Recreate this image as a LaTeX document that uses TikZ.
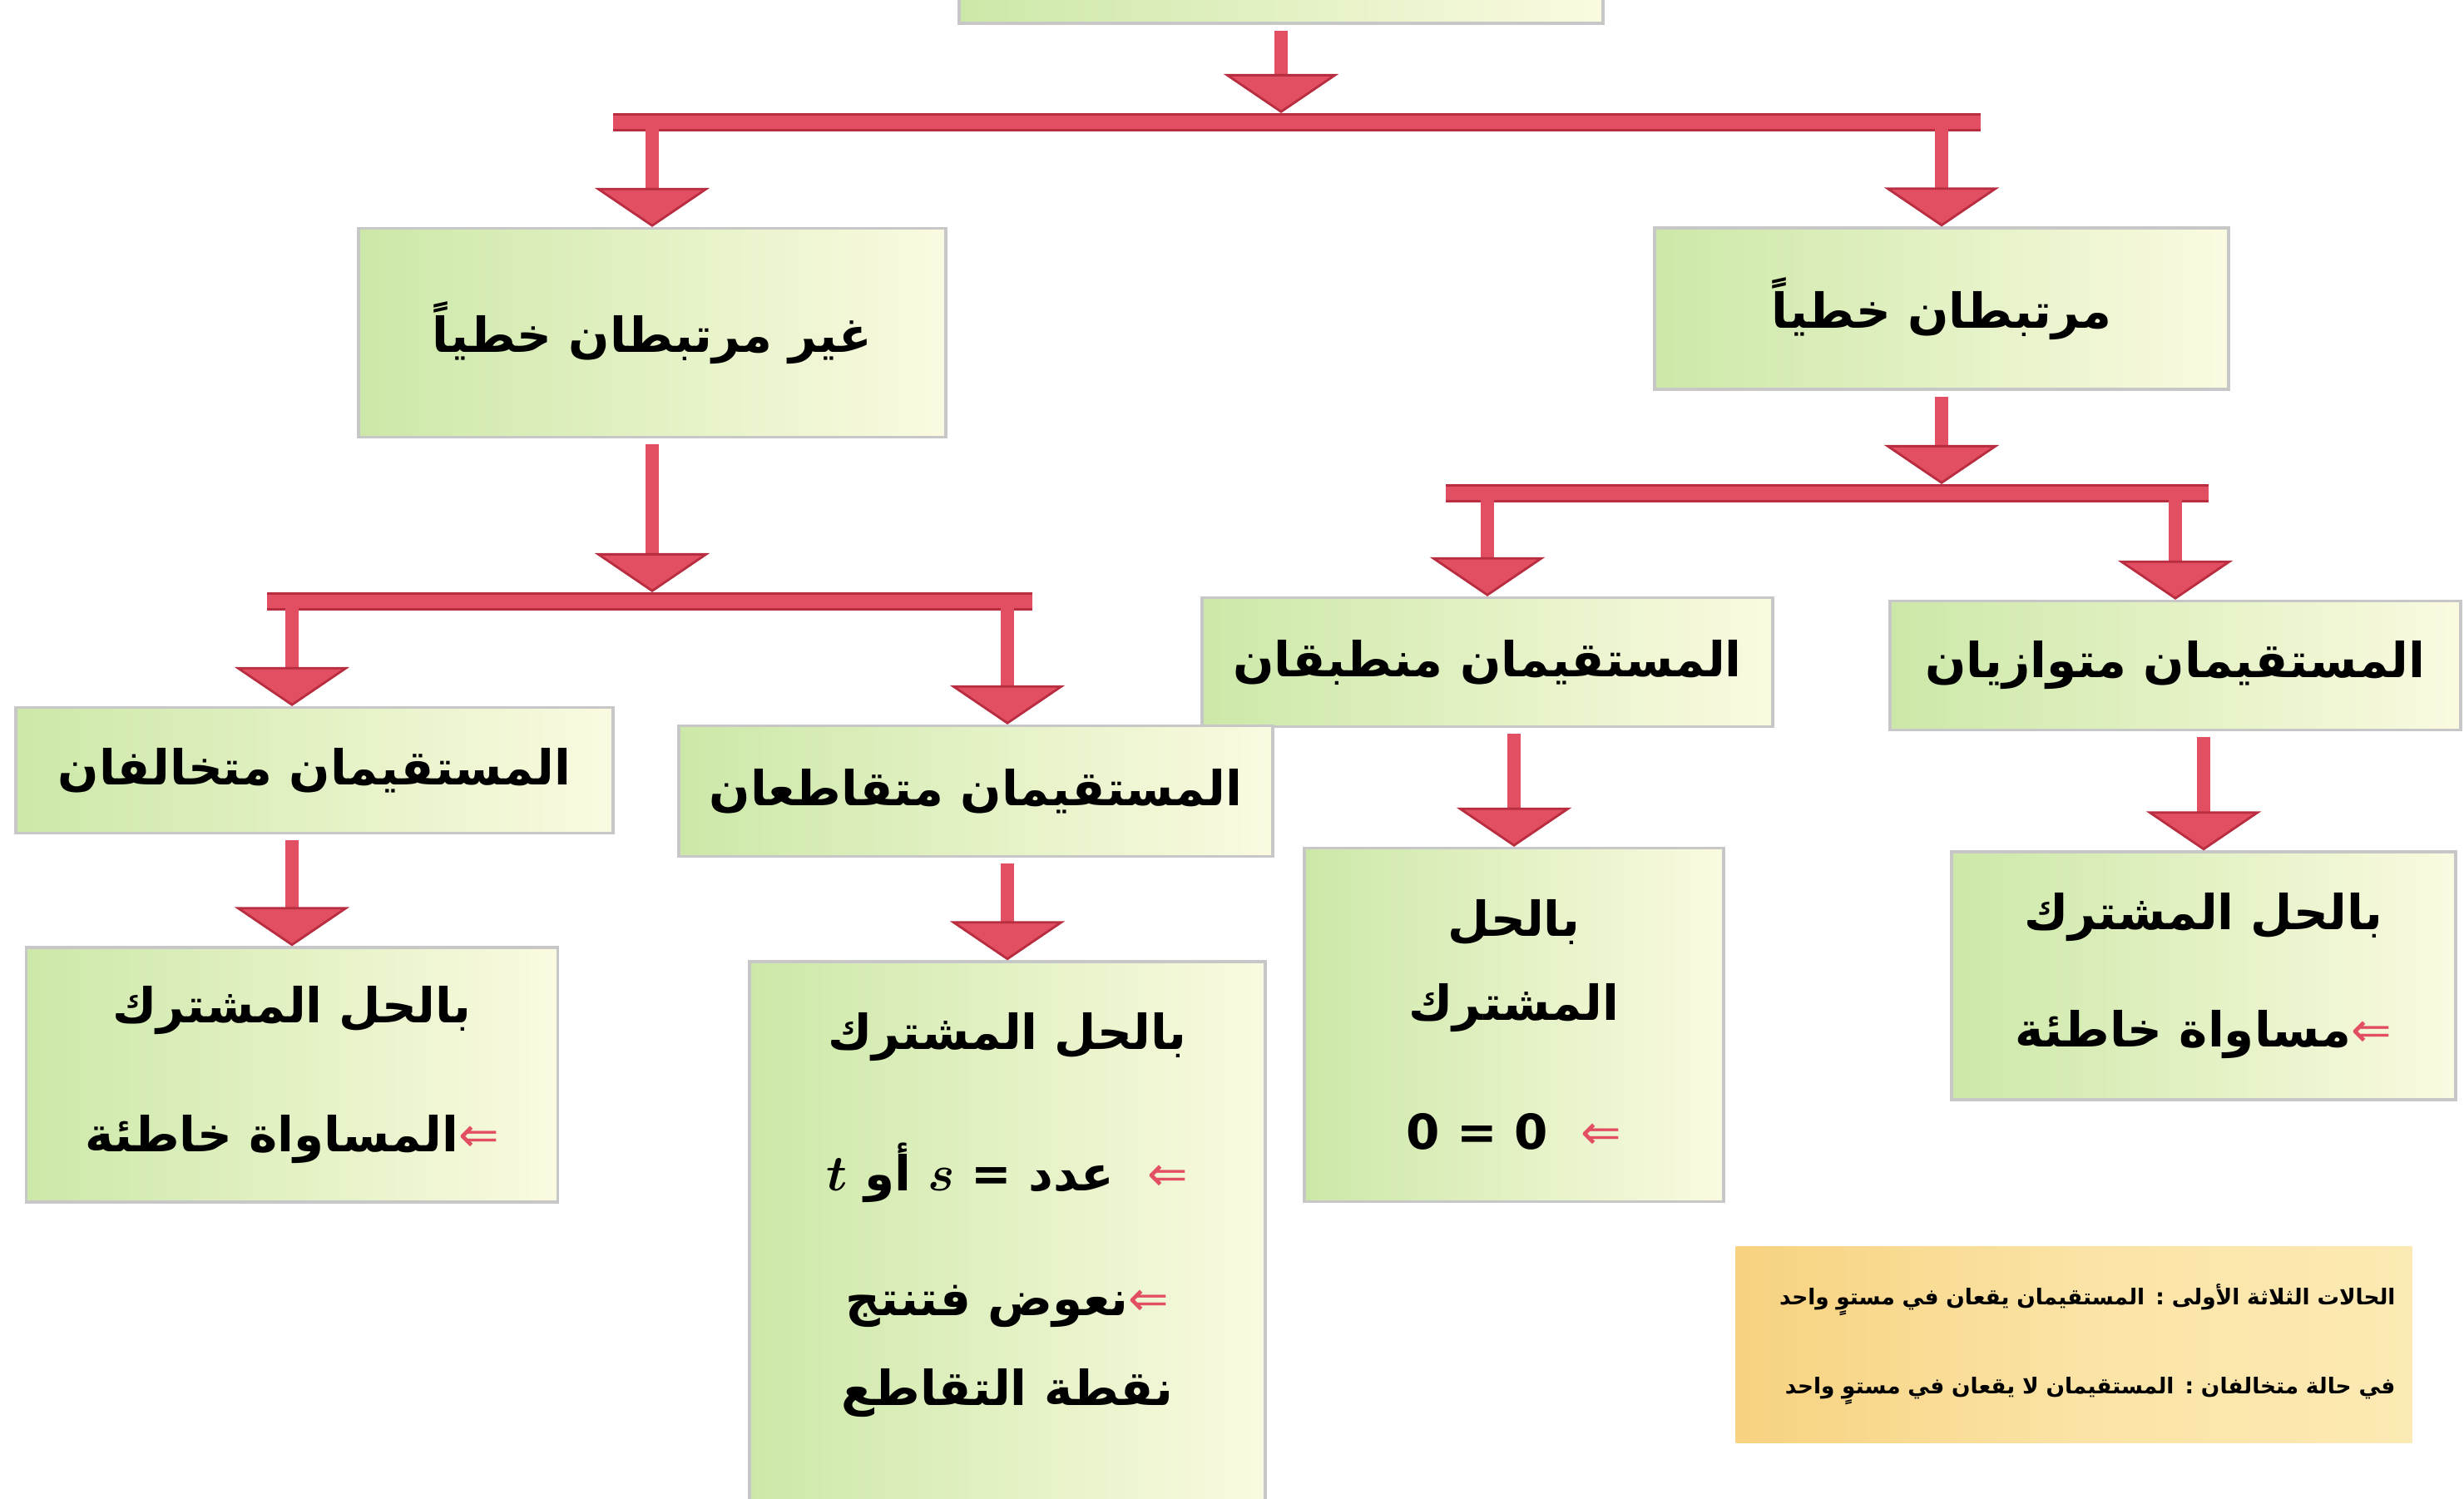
\documentclass[tikz,border=0pt]{standalone}
\usepackage{fontspec}
\usepackage{bm}
\usetikzlibrary{arrows.meta,positioning}
\TeXXeTstate=1
\newfontfamily\arabicfont[Script=Arabic]{DejaVu Sans}
\definecolor{boxgreen}{RGB}{204,232,168}
\definecolor{boxcream}{RGB}{250,250,224}
\definecolor{arrred}{RGB}{226,78,98}
\definecolor{arrdark}{RGB}{185,45,65}
\definecolor{noteorange}{RGB}{247,210,128}
\definecolor{notelight}{RGB}{252,234,180}
\newcommand{\imp}{{\color{arrred}\mdseries ⇐}}

\begin{document}
\begin{tikzpicture}[
    txt/.style={inner sep=0pt, align=center, font=\arabicfont\bfseries\fontsize{16.5}{20}\selectfont},
    box/.style={txt, draw=black!22, line width=0.9pt, left color=boxgreen, right color=boxcream},
    arr/.style={draw=arrred, line width=0.16cm, shorten <=2pt,
        -{Triangle[width=1.38cm,length=0.47cm,line width=0.8pt,fill=arrred,color=arrdark]}},
    bar/.style={draw=arrdark, line width=0.03cm, double=arrred, double distance=0.16cm}
]
\useasboundingbox (0,0) rectangle (29.62,-18.02);
\clip (0,0) rectangle (29.62,-18.02);

\node (top) [box, minimum width=7.74cm, minimum height=1.28cm] at (15.40,0.36) {};
\node (nonlin) [box, minimum width=7.06cm, minimum height=2.51cm] at (7.84,-4.00) {\beginR غير مرتبطان خطياً\endR};
\node (lin) [box, minimum width=6.90cm, minimum height=1.94cm] at (23.34,-3.71) {\beginR مرتبطان خطياً\endR};
\node (coinc) [box, minimum width=6.86cm, minimum height=1.55cm] at (17.88,-7.96) {\beginR المستقيمان منطبقان\endR};
\node (paral) [box, minimum width=6.86cm, minimum height=1.55cm] at (26.15,-8.00) {\beginR المستقيمان متوازيان\endR};
\node (skew) [box, minimum width=7.18cm, minimum height=1.51cm] at (3.78,-9.26) {\beginR المستقيمان متخالفان\endR};
\node (inter) [box, minimum width=7.14cm, minimum height=1.57cm] at (11.73,-9.51) {\beginR المستقيمان متقاطعان\endR};

\node (solveS) [box, minimum width=6.39cm, minimum height=3.06cm] at (3.51,-12.92)
    {\beginR بالحل المشترك\endR\\[0.85cm]\beginR المساواة خاطئة\endR\imp};
\node (solveI) [box, minimum width=6.20cm, minimum height=6.74cm] at (12.11,-14.93) {};
\node (solveItext) [txt, below=0.62cm of solveI.north, anchor=north]
    {\beginR بالحل المشترك\endR\\[0.95cm]
     \beginR عدد = $\bm{s}$ أو $\bm{t}$\endR\ \ \imp\\[0.80cm]
     \beginR نعوض فتنتج\endR\imp\\[0.37cm]
     \beginR نقطة التقاطع\endR};
\node (solveC) [box, minimum width=5.04cm, minimum height=4.25cm] at (18.20,-12.32)
    {\beginR بالحل\endR\\[0.30cm]\beginR المشترك\endR\\[0.85cm]0 = 0 \ \imp};
\node (solveP) [box, minimum width=6.06cm, minimum height=2.98cm] at (26.49,-11.73)
    {\beginR بالحل المشترك\endR\\[0.70cm]\beginR مساواة خاطئة\endR\imp};

\node (note) [draw=none, left color=noteorange, right color=notelight, middle color=notelight!70!noteorange,
    text width=7.73cm, inner xsep=0.2cm, minimum height=2.36cm, align=right,
    font=\arabicfont\bfseries\fontsize{7.5}{9}\selectfont] at (24.93,-16.16)
    {\beginR الحالات الثلاثة الأولى : المستقيمان يقعان في مستوٍ واحد\endR\\[0.70cm]
     \beginR في حالة متخالفان : المستقيمان لا يقعان في مستوٍ واحد\endR};

\coordinate (barT) at (0,-1.47);
\coordinate (barL) at (0,-7.23);
\coordinate (barR) at (0,-5.93);

\draw[arr, shorten >=0.11cm] (top.south) -- (top.south |- barT);
\draw[bar] ([xshift=-0.47cm]nonlin.north |- barT) -- ([xshift=0.47cm]lin.north |- barT);
\draw[arr] (nonlin.north |- barT) -- (nonlin.north);
\draw[arr] (lin.north |- barT) -- (lin.north);

\draw[arr, shorten >=0.11cm] (nonlin.south) -- (nonlin.south |- barL);
\draw[bar] ([xshift=-0.3cm]solveS.north |- barL) -- ([xshift=0.3cm]solveI.north |- barL);
\draw[arr] (solveS.north |- barL) -- (solveS.north |- skew.north);
\draw[arr] (solveI.north |- barL) -- (solveI.north |- inter.north);

\draw[arr, shorten >=0.11cm] (lin.south) -- (lin.south |- barR);
\draw[bar] ([xshift=-0.5cm]coinc.north |- barR) -- ([xshift=0.4cm]paral.north |- barR);
\draw[arr] (coinc.north |- barR) -- (coinc.north);
\draw[arr] (paral.north |- barR) -- (paral.north);

\draw[arr] (solveS.north |- skew.south) -- (solveS.north);
\draw[arr] (solveI.north |- inter.south) -- (solveI.north);
\draw[arr] (solveC.north |- coinc.south) -- (solveC.north);
\draw[arr] (solveP.north |- paral.south) -- (solveP.north);
\end{tikzpicture}
\end{document}
